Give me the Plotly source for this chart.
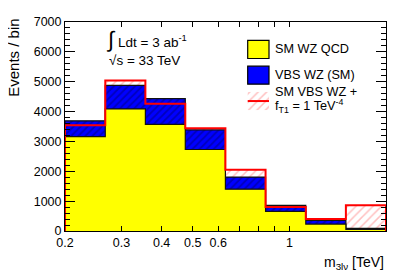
import math
import plotly.graph_objects as go

# ---- data ----
edges = [0.2, 0.267, 0.356, 0.474, 0.632, 0.843, 1.125, 1.5, 2.0]
qcd = [3160, 4090, 3570, 2730, 1400, 660, 232, 55]
vbs_sm = [530, 790, 865, 660, 405, 195, 120, 35]
total_ft1 = [3545, 5040, 4260, 3440, 2055, 805, 405, 860]

x_tickvals = [0.2, 0.3, 0.4, 0.5, 0.6, 0.7, 0.8, 0.9, 1, 2]
x_ticktext = ["0.2", "0.3", "0.4", "0.5", "0.6", " ", " ", " ", "1", " "]

stack_top = [a + b for a, b in zip(qcd, vbs_sm)]

# page geometry (the page body adds an 8px offset)
OFF = 8
PW, PH = 407, 276
L, R, T, B = 65, 386, 15, 231   # plot area in page pixels
W, H = PW - OFF, PH - OFF


def fx(px):
    return (px - L) / (R - L)


def fy(py):
    return (B - py) / (B - T)


def step(vals):
    xs = [edges[0]] + list(edges) + [edges[-1]]
    ys = [0] + list(vals) + [vals[-1], 0]
    return xs, ys


FONT = "Liberation Sans, Arial, Helvetica, sans-serif"

fig = go.Figure()

xs, ys = step(total_ft1)
fig.add_trace(go.Scatter(
    x=xs, y=ys, mode="lines", line=dict(width=0, color="rgba(0,0,0,0)", shape="hv"),
    fill="tozeroy", fillcolor="white",
    fillpattern=dict(shape="/", bgcolor="white", fgcolor="#ff8080", size=6, solidity=0.25),
    showlegend=False, hoverinfo="skip"))

xs, ys = step(stack_top)
fig.add_trace(go.Scatter(
    x=xs, y=ys, mode="lines", line=dict(width=1.2, color="#111111", shape="hv"),
    fill="tozeroy", fillcolor="#0000ff",
    fillpattern=dict(shape="/", bgcolor="#0000ff", fgcolor="#00007a", size=5, solidity=0.35),
    showlegend=False, hoverinfo="skip"))

xs, ys = step(qcd)
fig.add_trace(go.Scatter(
    x=xs, y=ys, mode="lines", line=dict(width=1.2, color="#111111", shape="hv"),
    fill="tozeroy", fillcolor="#ffff00",
    showlegend=False, hoverinfo="skip"))

xs, ys = step(total_ft1)
fig.add_trace(go.Scatter(
    x=xs, y=ys, mode="lines", line=dict(width=2, color="#ff0000", shape="hv"),
    showlegend=False, hoverinfo="skip"))

# legend hatch swatch on an overlay axis (paper-like 0..1 coordinates)
lx0, lx1 = fx(247.7), fx(269)
fig.add_trace(go.Scatter(
    x=[lx0, lx1, lx1, lx0, lx0], y=[fy(87.3), fy(87.3), fy(106), fy(106), fy(87.3)],
    xaxis="x2", yaxis="y2", mode="lines", line=dict(width=0, color="rgba(0,0,0,0)"),
    fill="toself", fillcolor="white",
    fillpattern=dict(shape="/", bgcolor="white", fgcolor="#ff8080", size=6, solidity=0.25),
    showlegend=False, hoverinfo="skip"))
fig.add_trace(go.Scatter(
    x=[lx0, lx1], y=[fy(96.7), fy(96.7)], xaxis="x2", yaxis="y2", mode="lines",
    line=dict(width=2, color="#ff0000"), showlegend=False, hoverinfo="skip"))

shapes = [
    dict(type="rect", xref="paper", yref="paper", x0=lx0, x1=lx1, y0=fy(52.7), y1=fy(34),
         fillcolor="#ffff00", line=dict(color="black", width=1.2)),
    dict(type="rect", xref="paper", yref="paper", x0=lx0, x1=lx1, y0=fy(79.3), y1=fy(60.7),
         fillcolor="#0000ff", line=dict(color="black", width=1.2)),
]

ann = []


def add_text(text, px, py, size, xanchor="left", yanchor="middle", angle=0):
    ann.append(dict(text=text, x=fx(px), y=fy(py), xref="paper", yref="paper",
                    xanchor=xanchor, yanchor=yanchor, showarrow=False, textangle=angle,
                    font=dict(family=FONT, size=size, color="black")))


add_text("∫", 110.5, 33, 22, xanchor="center")
add_text("Ldt = 3 ab<sup>-1</sup>", 115.5, 34.5, 13.5)
add_text("√s = 33 TeV", 106.5, 55, 13.5)
add_text("SM WZ QCD", 272.5, 43, 12.7)
add_text("VBS WZ (SM)", 272.5, 69.5, 12.7)
add_text("SM VBS WZ +", 272.5, 87, 12.7)
add_text("f<sub>T1</sub> = 1 TeV<sup>-4</sup>", 272.5, 101.5, 12.7)
add_text("m<sub>3lν</sub> [TeV]", 386, 264, 14, xanchor="right")
add_text("Events / bin", 13.5, 52.5, 15, xanchor="center", angle=-90)

fig.update_layout(
    width=W, height=H,
    margin=dict(l=L - OFF, r=W - (R - OFF), t=T - OFF, b=H - (B - OFF), pad=0),
    paper_bgcolor="white", plot_bgcolor="white",
    font=dict(family=FONT, size=12.5, color="black"),
    shapes=shapes, annotations=ann,
    xaxis=dict(type="log", range=[math.log10(edges[0]), math.log10(edges[-1])],
               tickvals=x_tickvals, ticktext=x_ticktext, ticks="inside", ticklen=5,
               tickcolor="black", showline=True, linecolor="black", linewidth=1,
               mirror="allticks", showgrid=False, zeroline=False,
               tickfont=dict(family=FONT, size=12.5, color="black")),
    yaxis=dict(range=[0, 7000], dtick=1000, ticks="inside", ticklen=10, tickcolor="black",
               showline=True, linecolor="black", linewidth=1, mirror="allticks",
               showgrid=False, zeroline=False,
               minor=dict(dtick=200, ticks="inside", ticklen=5, tickcolor="black", showgrid=False),
               tickfont=dict(family=FONT, size=12.5, color="black")),
    xaxis2=dict(overlaying="x", anchor="y2", range=[0, 1], visible=False, fixedrange=True),
    yaxis2=dict(overlaying="y", anchor="x2", range=[0, 1], visible=False, fixedrange=True),
)

fig.write_html("out.html")
